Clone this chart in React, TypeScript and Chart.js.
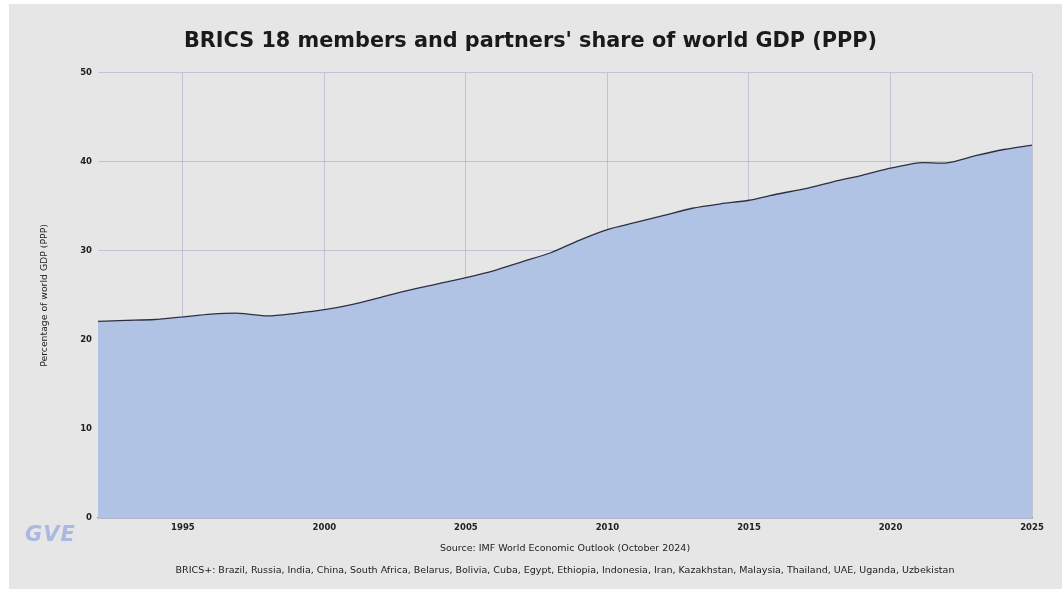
import React, { useEffect, useRef } from "react";
import { Chart, registerables } from "chart.js";

Chart.register(...registerables);

const years = [1992,1993,1994,1995,1996,1997,1998,1999,2000,2001,2002,2003,2004,2005,2006,2007,2008,2009,2010,2011,2012,2013,2014,2015,2016,2017,2018,2019,2020,2021,2022,2023,2024,2025];
const shareValues = [22.1,22.2,22.3,22.6,22.9,23.0,22.7,23.0,23.4,24.0,24.8,25.6,26.3,27.0,27.8,28.8,29.8,31.2,32.4,33.2,34.0,34.8,35.3,35.7,36.4,37.0,37.8,38.5,39.3,39.9,39.9,40.7,41.4,41.9];
const xTickYears = [1995, 2000, 2005, 2010, 2015, 2020, 2025];
const titleText = "BRICS 18 members and partners' share of world GDP (PPP)";
const yAxisTitle = "Percentage of world GDP (PPP)";
const sourceText = "Source: IMF World Economic Outlook (October 2024)";
const membersText = "BRICS+: Brazil, Russia, India, China, South Africa, Belarus, Bolivia, Cuba, Egypt, Ethiopia, Indonesia, Iran, Kazakhstan, Malaysia, Thailand, UAE, Uganda, Uzbekistan";

const FONT = "'DejaVu Sans', sans-serif";

export default function App() {
  const canvasRef = useRef<HTMLCanvasElement | null>(null);

  useEffect(() => {
    document.body.style.margin = "0";
    const canvas = canvasRef.current;
    if (!canvas) return;
    const gridColor = "rgba(100,108,170,0.28)";
    const chart = new Chart(canvas, {
      type: "line",
      data: {
        datasets: [
          {
            data: years.map((y, i) => ({ x: y, y: shareValues[i] })),
            borderColor: "#2e3040",
            borderWidth: 1.3,
            backgroundColor: "#b0c3e5",
            fill: "origin",
            pointRadius: 0,
            tension: 0.25,
          },
        ],
      },
      options: {
        animation: false,
        responsive: false,
        maintainAspectRatio: false,
        layout: { padding: { left: 20, right: 30, top: 0, bottom: 0 } },
        plugins: {
          legend: { display: false },
          tooltip: { enabled: false },
          title: {
            display: true,
            text: titleText,
            color: "#1a1a1a",
            font: { family: FONT, size: 20.8, weight: "bold", lineHeight: 1.2 },
            padding: { top: 25.5, bottom: 18.5 },
          },
        },
        scales: {
          x: {
            type: "linear",
            min: 1992,
            max: 2025,
            z: 1,
            afterBuildTicks: (scale: any) => {
              scale.ticks = xTickYears.map((v) => ({ value: v }));
            },
            afterFit: (scale: any) => {
              scale.height = 71;
            },
            ticks: {
              autoSkip: false,
              maxRotation: 0,
              padding: 5,
              color: "#222",
              font: { family: FONT, size: 8.5, weight: "bold" },
              callback: (v: any) => String(v),
            },
            grid: { color: gridColor, lineWidth: 1, drawTicks: false },
            border: { display: true, color: "#8a93aa", width: 1.2 },
            title: {
              display: true,
              text: [sourceText, membersText],
              color: "#222",
              font: { family: FONT, size: 9.5, lineHeight: 22 / 9.5 },
              padding: { top: 0, bottom: 7 },
            },
          },
          y: {
            min: 0,
            max: 50,
            z: 1,
            afterFit: (scale: any) => {
              scale.width = 69;
            },
            ticks: {
              stepSize: 10,
              padding: 6,
              color: "#222",
              font: { family: FONT, size: 8.5, weight: "bold" },
            },
            grid: { color: gridColor, lineWidth: 1, drawTicks: false },
            border: { display: false },
            title: {
              display: true,
              text: yAxisTitle,
              color: "#222",
              font: { family: FONT, size: 9.3, lineHeight: 1.2 },
              padding: { top: 10.4, bottom: 0 },
            },
          },
        },
      },
    });
    return () => chart.destroy();
  }, []);

  return (
    <div style={{ position: "fixed", left: 0, top: 0, width: 1062, height: 589, background: "#ffffff", overflow: "hidden" }}>
      <div style={{ position: "absolute", left: 9, top: 4, width: 1053, height: 585, background: "#e6e6e6" }}>
        <canvas ref={canvasRef} width={1053} height={585} style={{ display: "block", width: 1053, height: 585 }} />
        <div
          style={{
            position: "absolute",
            left: 16,
            top: 518,
            fontFamily: FONT,
            fontStyle: "italic",
            fontWeight: "bold",
            fontSize: 21,
            color: "#aab8e2",
            letterSpacing: 1,
          }}
        >
          GVE
        </div>
      </div>
    </div>
  );
}
